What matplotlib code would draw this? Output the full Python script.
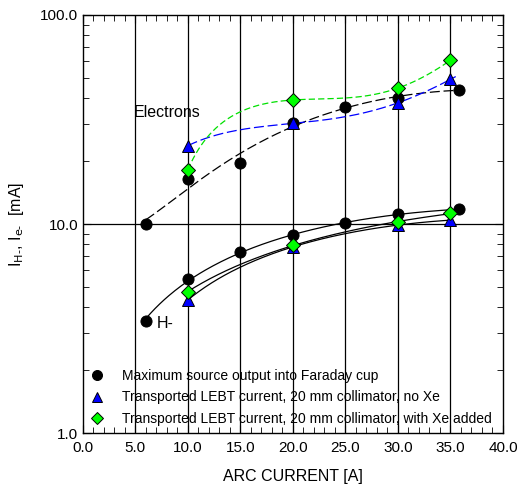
import numpy as np
import matplotlib
matplotlib.use("Agg")
import matplotlib.pyplot as plt
from matplotlib.ticker import MultipleLocator, LogLocator, NullFormatter, FixedLocator

plt.rcParams['font.family'] = ['Liberation Sans', 'DejaVu Sans']

# maximum source output (black circles)
x_max = [6, 10, 15, 20, 25, 30, 35.8]
e_max = [10.0, 16.4, 19.5, 30.5, 36.2, 40.2, 43.8]
h_max = [3.45, 5.44, 7.34, 8.83, 10.07, 11.2, 11.75]

# transported LEBT current, no Xe (blue triangles)
x_lebt = [10, 20, 30, 35]
e_noxe = [23.7, 30.3, 38.0, 49.2]
h_noxe = [4.33, 7.79, 9.86, 10.45]

# transported LEBT current, with Xe (green diamonds)
e_xe = [18.2, 39.2, 44.7, 60.7]
h_xe = [4.74, 7.94, 10.2, 11.25]

labels = ["Maximum source output into Faraday cup",
          "Transported LEBT current, 20 mm collimator, no Xe",
          "Transported LEBT current, 20 mm collimator, with Xe added"]

fig = plt.figure(figsize=(5.18, 4.91), dpi=100)
ax = fig.add_axes([0.160, 0.118, 0.811, 0.8515])

def fit(x, y, deg, col, ls, x_end=None):
    p = np.polyfit(x, y, deg)
    xs = np.linspace(min(x), x_end or max(x), 200)
    ax.plot(xs, np.polyval(p, xs), color=col, lw=0.9, ls=ls, zorder=2)

# fit lines
fit(x_max, e_max, 4, 'black', (0, (8, 3)))
fit(x_lebt, e_noxe, 3, 'blue', (0, (8, 3)), 35.5)
fit(x_lebt, e_xe, 3, '#00e000', (0, (5, 2.5)))
fit(x_max, h_max, 2, 'black', '-', 35)
fit(x_lebt, h_noxe, 2, 'black', '-')
fit(x_lebt, h_xe, 2, 'black', '-')

mk = dict(ls='none', markeredgecolor='black', markeredgewidth=0.7, zorder=3)
ax.plot(x_max, e_max, 'o', color='black', ms=8, label=labels[0], **mk)
ax.plot(x_max, h_max, 'o', color='black', ms=8, **mk)
ax.plot(x_lebt, e_noxe, '^', color='blue', ms=8, label=labels[1], **mk)
ax.plot(x_lebt, h_noxe, '^', color='blue', ms=8, **mk)
ax.plot(x_lebt, e_xe, 'D', color='#00ff00', ms=7, label=labels[2], **mk)
ax.plot(x_lebt, h_xe, 'D', color='#00ff00', ms=7, **mk)

ax.set_yscale('log')
ax.set_xlim(0, 40)
ax.set_ylim(1, 100)

for xv in range(5, 40, 5):
    ax.axvline(xv, color='black', lw=0.9, zorder=1)
ax.axhline(10, color='black', lw=0.9, zorder=1)

ax.xaxis.set_major_locator(MultipleLocator(5))
ax.xaxis.set_minor_locator(MultipleLocator(1))
ax.xaxis.set_major_formatter(plt.FuncFormatter(lambda v, p: f"{v:.1f}"))
ax.yaxis.set_major_locator(FixedLocator([1, 10, 100]))
ax.yaxis.set_minor_locator(LogLocator(base=10, subs=np.arange(2, 10)))
ax.yaxis.set_minor_formatter(NullFormatter())
ax.yaxis.set_major_formatter(plt.FuncFormatter(lambda v, p: f"{v:.1f}"))
ax.tick_params(which='both', direction='in', top=True, right=True, labelsize=11)
ax.tick_params(which='major', length=6)
ax.tick_params(which='minor', length=4)
ax.tick_params(axis='x', pad=6)
for s in ax.spines.values():
    s.set_linewidth(1.0)

ax.set_xlabel("ARC CURRENT [A]", fontsize=11.5, labelpad=10)
ax.set_ylabel(r"I$_{\mathrm{H\text{-}}}$, I$_{\mathrm{e\text{-}}}$  [mA]", fontsize=11.5, labelpad=10)

ax.text(4.8, 34, "Electrons", fontsize=11.5, va='center')
ax.text(7.0, 3.36, "H-", fontsize=11.5, va='center')

ax.legend(loc='lower left', frameon=False, fontsize=10, handletextpad=1.3,
          borderaxespad=0.1, labelspacing=0.55, handlelength=1.0, markerscale=0.9)

fig.savefig("out.png", dpi=100)
